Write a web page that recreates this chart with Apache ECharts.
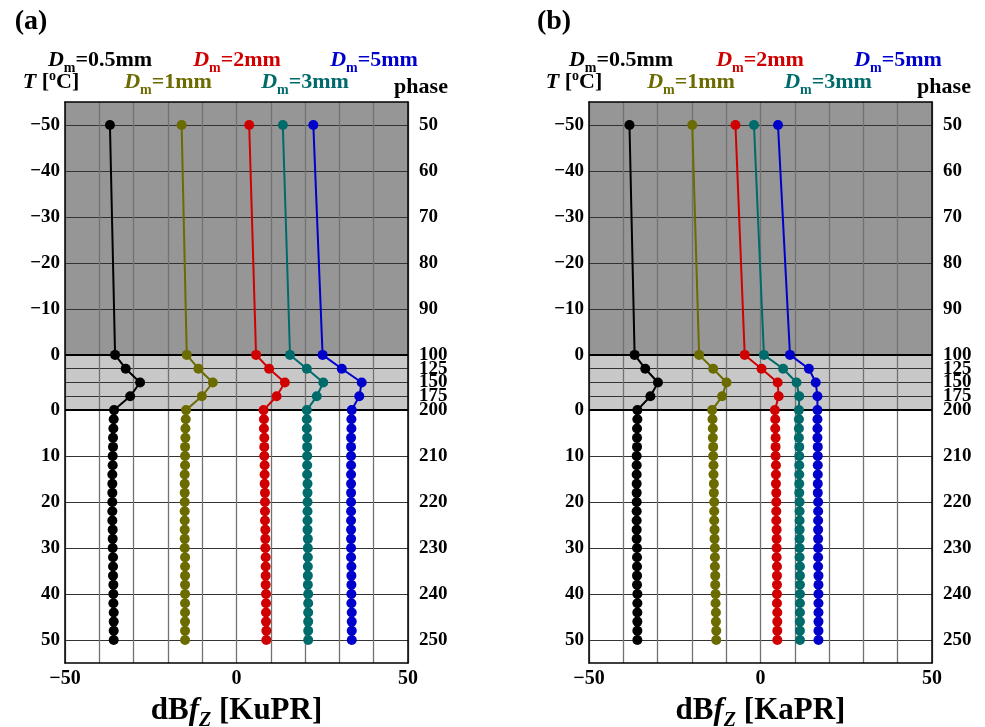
<!DOCTYPE html>
<html>
<head>
<meta charset="utf-8">
<script src="https://cdn.jsdelivr.net/npm/echarts@6/dist/echarts.min.js"></script>
<style>
  html, body { margin: 0; padding: 0; background: #fff; }
  #chart { width: 985px; height: 727px; }
</style>
</head>
<body>
<div id="chart"></div>
<script>
// phase index of every point (same for all curves)
const phase = [50, 100, 125, 150, 175, 200,
  202, 204, 206, 208, 210, 212, 214, 216, 218, 220, 222, 224, 226,
  228, 230, 232, 234, 236, 238, 240, 242, 244, 246, 248, 250];

const sizes = ['0.5', '1', '2', '3', '5'];
const colors = ['#000000', '#6b6b00', '#d00000', '#006b6b', '#0000cc'];

// panel (a) KuPR
const kuDm05 = [-36.9, -35.4, -32.3, -28.1, -31.0, -35.7,
  -35.8, -35.9, -36.0, -36.0, -36.1, -36.1, -36.2, -36.2, -36.2, -36.2, -36.2, -36.2, -36.1,
  -36.1, -36.1, -36.0, -36.0, -36.0, -35.9, -35.9, -35.9, -35.8, -35.8, -35.8, -35.8];
const kuDm1 = [-16.0, -14.5, -11.1, -6.9, -10.1, -14.7,
  -14.8, -14.9, -14.9, -15.0, -15.0, -15.0, -15.1, -15.1, -15.1, -15.1, -15.1, -15.1, -15.1,
  -15.1, -15.1, -15.0, -15.0, -15.0, -15.0, -15.0, -15.0, -15.0, -15.0, -15.0, -15.0];
const kuDm2 = [3.7, 5.7, 9.5, 14.1, 11.7, 7.9,
  8.0, 8.0, 8.1, 8.1, 8.1, 8.2, 8.2, 8.2, 8.3, 8.3, 8.3, 8.3, 8.4,
  8.4, 8.4, 8.5, 8.5, 8.5, 8.5, 8.6, 8.6, 8.6, 8.6, 8.7, 8.7];
const kuDm3 = [13.5, 15.6, 20.5, 25.3, 23.4, 20.5,
  20.5, 20.5, 20.6, 20.6, 20.6, 20.6, 20.6, 20.7, 20.7, 20.7, 20.7, 20.7, 20.7,
  20.8, 20.8, 20.8, 20.8, 20.8, 20.8, 20.9, 20.9, 20.9, 20.9, 20.9, 20.9];
const kuDm5 = [22.4, 25.1, 30.7, 36.5, 35.8, 33.6,
  33.5, 33.5, 33.4, 33.4, 33.4, 33.4, 33.4, 33.4, 33.4, 33.4, 33.4, 33.4, 33.4,
  33.4, 33.4, 33.4, 33.5, 33.5, 33.5, 33.5, 33.5, 33.6, 33.6, 33.6, 33.6];

// panel (b) KaPR
const kaDm05 = [-38.2, -36.7, -33.6, -29.9, -32.1, -35.9,
  -35.9, -36.0, -36.0, -36.0, -36.1, -36.1, -36.1, -36.1, -36.1, -36.1, -36.1, -36.1, -36.1,
  -36.1, -36.0, -36.0, -36.0, -36.0, -36.0, -35.9, -35.9, -35.9, -35.9, -35.9, -35.9];
const kaDm1 = [-19.9, -17.9, -13.8, -9.9, -11.2, -14.1,
  -14.0, -13.9, -13.9, -13.8, -13.8, -13.7, -13.7, -13.6, -13.6, -13.5, -13.5, -13.5, -13.4,
  -13.4, -13.3, -13.3, -13.3, -13.2, -13.2, -13.1, -13.1, -13.0, -13.0, -12.9, -12.9];
const kaDm2 = [-7.3, -4.6, 0.3, 5.0, 5.3, 4.2,
  4.3, 4.3, 4.4, 4.4, 4.4, 4.5, 4.5, 4.5, 4.6, 4.6, 4.6, 4.6, 4.7,
  4.7, 4.7, 4.7, 4.8, 4.8, 4.8, 4.8, 4.8, 4.9, 4.9, 4.9, 4.9];
const kaDm3 = [-1.9, 1.0, 6.6, 10.5, 11.3, 11.2,
  11.2, 11.2, 11.2, 11.3, 11.3, 11.3, 11.3, 11.3, 11.3, 11.4, 11.4, 11.4, 11.4,
  11.4, 11.4, 11.4, 11.5, 11.5, 11.5, 11.5, 11.5, 11.5, 11.5, 11.5, 11.5];
const kaDm5 = [5.1, 8.6, 14.1, 16.1, 16.6, 16.6,
  16.6, 16.6, 16.6, 16.7, 16.7, 16.7, 16.7, 16.7, 16.7, 16.8, 16.8, 16.8, 16.8,
  16.8, 16.8, 16.8, 16.8, 16.9, 16.9, 16.9, 16.9, 16.9, 16.9, 16.9, 16.9];

const kuValues = [kuDm05, kuDm1, kuDm2, kuDm3, kuDm5];
const kaValues = [kaDm05, kaDm1, kaDm2, kaDm3, kaDm5];

// tick labels
const phaseTicks = [50, 60, 70, 80, 90, 100, 125, 150, 175, 200, 210, 220, 230, 240, 250];
const tempTicksPhase = [50, 60, 70, 80, 90, 100, 200, 210, 220, 230, 240, 250];
const tempTickLabels = [-50, -40, -30, -20, -10, 0, 0, 10, 20, 30, 40, 50];
const xTicks = [-50, 0, 50];

// piecewise vertical position: melting layer (100-200) squeezed
function toU(p) {
  if (p <= 100) return p - 50;
  if (p <= 200) return 50 + (p - 100) * 12 / 100;
  return 62 + (p - 200);
}
const uMin = -5, uMax = 117;
const cats = [];
for (let u = uMin; u <= uMax; u++) cats.push(String(u));
const idx = p => toU(p) - uMin;

const leftMap = {};
tempTicksPhase.forEach((p, i) => { leftMap[idx(p)] = tempTickLabels[i]; });
const rightMap = {};
phaseTicks.forEach(p => { rightMap[idx(p)] = p; });
const lineIdx = new Set(phaseTicks.filter(p => p !== 100 && p !== 200).map(idx));

const serif = "'Liberation Serif', 'DejaVu Serif', serif";
const fmtNum = v => (v < 0 ? '\u2212' + Math.abs(v) : String(v));

const chart = echarts.init(document.getElementById('chart'));

const panels = [
  { left: 65, values: kuValues, name: 'KuPR', tag: '(a)', tagX: 31 },
  { left: 589, values: kaValues, name: 'KaPR', tag: '(b)', tagX: 554 }
];
const gridTop = 102, gridH = 561, gridW = 343;

const grid = [], xAxis = [], yAxis = [], series = [], graphic = [];

panels.forEach((pn, k) => {
  grid.push({ left: pn.left, top: gridTop, width: gridW, height: gridH });
  xAxis.push({
    type: 'value', gridIndex: k, min: -50, max: 50, interval: 10, position: 'bottom', z: 3,
    axisLine: { show: true, onZero: false, lineStyle: { color: '#000', width: 1.5 } },
    axisTick: { show: false },
    axisLabel: {
      margin: 6, color: '#000', fontFamily: serif, fontWeight: 'bold', fontSize: 20,
      formatter: v => (xTicks.includes(v) ? fmtNum(v) : '')
    },
    splitLine: { show: true, lineStyle: { color: '#727272', width: 1.3 } }
  });
  xAxis.push({
    type: 'value', gridIndex: k, min: -50, max: 50, position: 'top', z: 3,
    axisLine: { show: true, onZero: false, lineStyle: { color: '#000', width: 1.5 } },
    axisTick: { show: false }, axisLabel: { show: false }, splitLine: { show: false }
  });
  yAxis.push({
    type: 'category', gridIndex: k, data: cats, inverse: true, boundaryGap: false, position: 'left', z: 3,
    axisLine: { show: true, onZero: false, lineStyle: { color: '#000', width: 1.5 } },
    axisTick: { show: false },
    axisLabel: {
      margin: 5, color: '#000', fontFamily: serif, fontWeight: 'bold', fontSize: 19,
      interval: i => leftMap[i] !== undefined,
      formatter: (v, i) => (leftMap[i] !== undefined ? fmtNum(leftMap[i]) : '')
    },
    splitLine: { show: true, interval: i => lineIdx.has(i), lineStyle: { color: '#333', width: 1 } }
  });
  yAxis.push({
    type: 'category', gridIndex: k, data: cats, inverse: true, boundaryGap: false, position: 'right', z: 3,
    axisLine: { show: true, onZero: false, lineStyle: { color: '#000', width: 1.5 } },
    axisTick: { show: false },
    axisLabel: {
      margin: 11, color: '#000', fontFamily: serif, fontWeight: 'bold', fontSize: 19,
      interval: i => rightMap[i] !== undefined,
      formatter: (v, i) => (rightMap[i] !== undefined ? String(rightMap[i]) : '')
    },
    splitLine: { show: false }
  });

  // background shading and layer boundaries
  series.push({
    type: 'line', xAxisIndex: 2 * k, yAxisIndex: 2 * k, data: [], z: 1, silent: true,
    markArea: {
      silent: true,
      data: [
        [{ yAxis: String(uMin), itemStyle: { color: '#969696' } }, { yAxis: String(toU(100)) }],
        [{ yAxis: String(toU(100)), itemStyle: { color: '#c8c8c8' } }, { yAxis: String(toU(200)) }]
      ]
    }
  });
  series.push({
    type: 'line', xAxisIndex: 2 * k, yAxisIndex: 2 * k, data: [], z: 4, silent: true,
    markLine: {
      silent: true, symbol: 'none', label: { show: false },
      lineStyle: { color: '#000', width: 2, type: 'solid' },
      data: [{ yAxis: String(toU(100)) }, { yAxis: String(toU(200)) }]
    }
  });

  pn.values.forEach((vals, s) => {
    series.push({
      name: 'Dm=' + sizes[s] + 'mm', type: 'line', xAxisIndex: 2 * k, yAxisIndex: 2 * k,
      symbol: 'circle', symbolSize: 10, showAllSymbol: true, z: 5,
      itemStyle: { color: colors[s] },
      lineStyle: { color: colors[s], width: 2 },
      data: phase.map((p, i) => [vals[i], idx(p)])
    });
  });
});

// annotations
const rich = c => ({
  d: { fontFamily: serif, fontWeight: 'bold', fontStyle: 'italic', fontSize: 22, fill: c, lineHeight: 24, verticalAlign: 'bottom' },
  s: { fontFamily: serif, fontWeight: 'bold', fontSize: 14, fill: c, lineHeight: 24, verticalAlign: 'bottom', padding: [0, 0, -4, 0] },
  n: { fontFamily: serif, fontWeight: 'bold', fontSize: 22, fill: c, lineHeight: 24, verticalAlign: 'bottom' },
  o: { fontFamily: serif, fontWeight: 'bold', fontSize: 14, fill: c, lineHeight: 24, verticalAlign: 'top' }
});
function txt(x, y, text, color) {
  graphic.push({
    type: 'text', x: x, y: y,
    style: { text: text, rich: rich(color), align: 'center', verticalAlign: 'middle' }
  });
}
const dmPos = [
  [[100, 59], [168, 81], [237, 59], [305, 81], [374, 59]],
  [[621, 59], [691, 81], [760, 59], [828, 81], [898, 59]]
];
panels.forEach((pn, k) => {
  pn.values.forEach((v, s) => {
    txt(dmPos[k][s][0], dmPos[k][s][1], '{d|D}{s|m}{n|=' + sizes[s] + 'mm}', colors[s]);
  });
  const off = k === 0 ? 0 : 523;
  txt(51 + off, 81, '{d|T}{n| [}{o|o}{n|C]}', '#000');
  txt(421 + off, 86, '{n|phase}', '#000');
  graphic.push({
    type: 'text', x: pn.tagX, y: 22,
    style: { text: pn.tag, font: "bold 28px " + serif, fill: '#000', align: 'center', verticalAlign: 'middle' }
  });
  graphic.push({
    type: 'text', x: pn.left + gridW / 2, y: 709,
    style: {
      text: '{n|dB}{f|f}{z|Z}{n| [' + pn.name + ']}',
      align: 'center', verticalAlign: 'middle',
      rich: {
        n: { fontFamily: serif, fontWeight: 'bold', fontSize: 31, fill: '#000', lineHeight: 34, verticalAlign: 'bottom' },
        f: { fontFamily: serif, fontWeight: 'bold', fontStyle: 'italic', fontSize: 31, fill: '#000', lineHeight: 34, verticalAlign: 'bottom' },
        z: { fontFamily: serif, fontWeight: 'bold', fontStyle: 'italic', fontSize: 20, fill: '#000', lineHeight: 34, verticalAlign: 'bottom', padding: [0, 0, -5, 0] }
      }
    }
  });
});

chart.setOption({
  animation: false,
  backgroundColor: '#fff',
  grid: grid,
  xAxis: xAxis,
  yAxis: yAxis,
  series: series,
  graphic: graphic
});
</script>
</body>
</html>
